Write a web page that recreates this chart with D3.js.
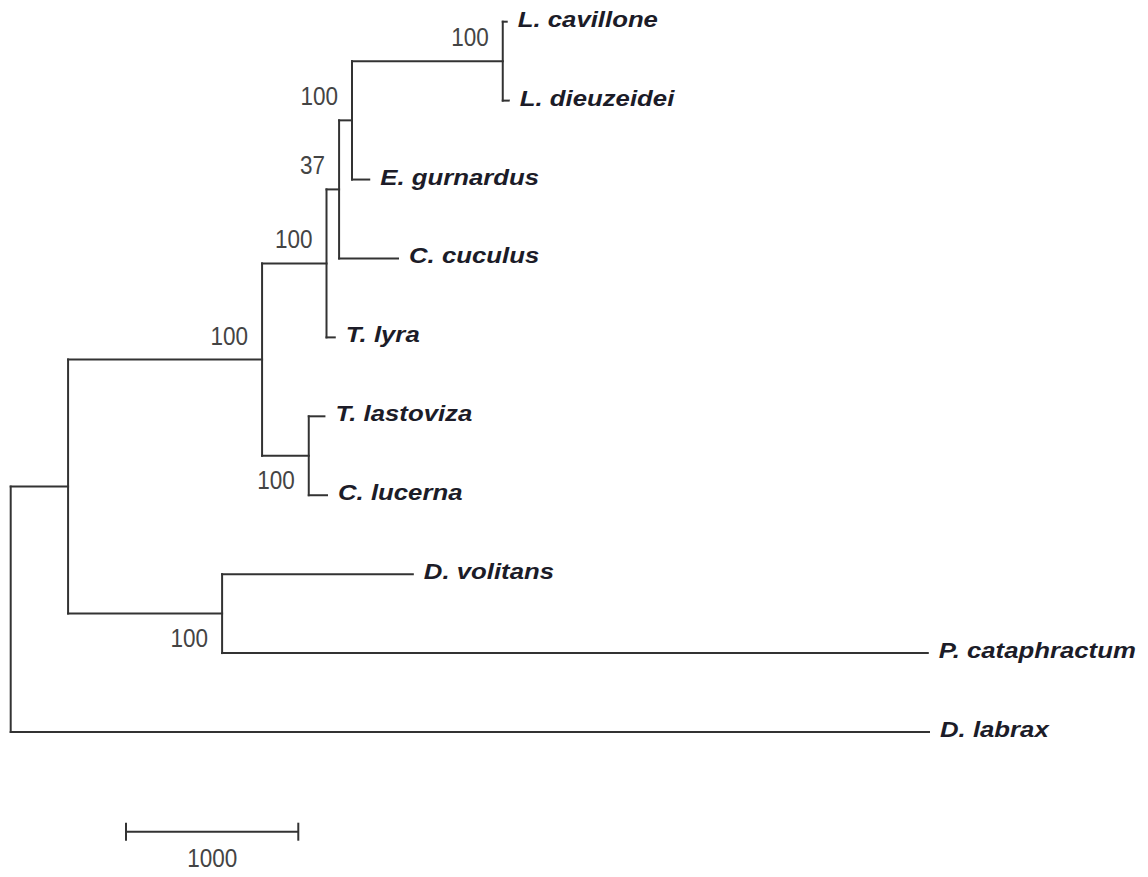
<!DOCTYPE html>
<html>
<head>
<meta charset="utf-8">
<script src="https://cdn.jsdelivr.net/npm/d3@7"></script>
<style>
  body { margin: 0; background: #fff; }
  svg { display: block; }
</style>
</head>
<body>
<script>
// tree as parallel arrays, children listed top to bottom
var nodeIds = ["root", "n1", "n2", "n3", "n4", "n5", "n6",
  "L. cavillone", "L. dieuzeidei", "E. gurnardus", "C. cuculus", "T. lyra",
  "n7", "T. lastoviza", "C. lucerna",
  "n8", "D. volitans", "P. cataphractum", "D. labrax"];
var parentIds = [null, "root", "n1", "n2", "n3", "n4", "n5",
  "n6", "n6", "n5", "n4", "n3",
  "n2", "n7", "n7",
  "n1", "n8", "n8", "root"];
// branch lengths (scale bar = 1000)
var branchLengths = [0, 333, 1126, 374, 73, 75, 875,
  23, 35, 100, 342, 48,
  271, 91, 106,
  894, 1107, 4096, 5330];
var bootstrap = [null, null, 100, 100, 37, 100, 100,
  null, null, null, null, null,
  100, null, null,
  100, null, null, null];
var scaleBarValue = 1000;

var width = 1148, height = 877;

var rows = nodeIds.map(function(id, i) {
  return { id: id, parent: parentIds[i], len: branchLengths[i], boot: bootstrap[i] };
});

var root = d3.stratify()
    .id(function(d) { return d.id; })
    .parentId(function(d) { return d.parent; })(rows);

// cumulative distance from root
root.each(function(d) {
  d.dist = d.parent ? d.parent.dist + d.data.len : 0;
});

var leaves = root.leaves();

var xScale = d3.scaleLinear()
    .domain([0, d3.max(leaves, function(d) { return d.dist; })])
    .range([10.7, 929]);

var yScale = d3.scalePoint()
    .domain(leaves.map(function(d) { return d.id; }))
    .range([21.7, 732]);

// internal node y = midpoint of its children
root.eachAfter(function(d) {
  if (d.children) {
    d.y = (d.children[0].y + d.children[d.children.length - 1].y) / 2;
  } else {
    d.y = yScale(d.id);
  }
  d.x = xScale(d.dist);
});

var svg = d3.select("body").append("svg")
    .attr("width", width)
    .attr("height", height);

var lineColor = "#333";

// horizontal branches
svg.selectAll(".branch")
  .data(root.descendants().filter(function(d) { return d.parent; }))
  .enter()
  .append("line")
  .attr("class", "branch")
  .attr("x1", function(d) { return d.parent.x; })
  .attr("x2", function(d) { return d.x; })
  .attr("y1", function(d) { return d.y; })
  .attr("y2", function(d) { return d.y; })
  .attr("stroke", lineColor)
  .attr("stroke-width", 2)
  .attr("stroke-linecap", "square");

// vertical connectors
svg.selectAll(".connector")
  .data(root.descendants().filter(function(d) { return d.children; }))
  .enter()
  .append("line")
  .attr("class", "connector")
  .attr("x1", function(d) { return d.x; })
  .attr("x2", function(d) { return d.x; })
  .attr("y1", function(d) { return d.children[0].y; })
  .attr("y2", function(d) { return d.children[d.children.length - 1].y; })
  .attr("stroke", lineColor)
  .attr("stroke-width", 2)
  .attr("stroke-linecap", "square");

// species names
svg.selectAll(".taxon")
  .data(leaves)
  .enter()
  .append("text")
  .attr("class", "taxon")
  .attr("transform", function(d) {
    return "translate(" + (d.x + 11) + "," + (d.y + 5) + ") scale(1.12,1)";
  })
  .style("font-family", "'Liberation Sans', Arial, sans-serif")
  .style("font-weight", "bold")
  .style("font-style", "italic")
  .style("font-size", "23px")
  .attr("fill", "#1c1c28")
  .text(function(d) { return d.id; });

// bootstrap values, above the branch for upper child, below for lower
svg.selectAll(".boot")
  .data(root.descendants().filter(function(d) { return d.data.boot != null; }))
  .enter()
  .append("text")
  .attr("class", "boot")
  .attr("transform", function(d) {
    var upper = d.parent.children[0] === d;
    var ty = upper ? d.y - 15 : d.y + 33;
    return "translate(" + (d.x - 14) + "," + ty + ") scale(0.9,1)";
  })
  .attr("text-anchor", "end")
  .style("font-family", "'Liberation Sans', Arial, sans-serif")
  .style("font-size", "25px")
  .attr("fill", "#444")
  .text(function(d) { return d.data.boot; });

// scale bar
var barX = 126, barY = 831.7;
var barLen = xScale(scaleBarValue) - xScale(0);
var bar = svg.append("g");
bar.append("line")
  .attr("x1", barX).attr("x2", barX + barLen)
  .attr("y1", barY).attr("y2", barY)
  .attr("stroke", lineColor).attr("stroke-width", 2);
[barX, barX + barLen].forEach(function(x) {
  bar.append("line")
    .attr("x1", x).attr("x2", x)
    .attr("y1", barY - 9).attr("y2", barY + 9)
    .attr("stroke", lineColor).attr("stroke-width", 2);
});
bar.append("text")
  .attr("transform", "translate(" + (barX + barLen / 2) + "," + (barY + 35) + ") scale(0.9,1)")
  .attr("text-anchor", "middle")
  .style("font-family", "'Liberation Sans', Arial, sans-serif")
  .style("font-size", "25px")
  .attr("fill", "#444")
  .text(scaleBarValue);
</script>
</body>
</html>
